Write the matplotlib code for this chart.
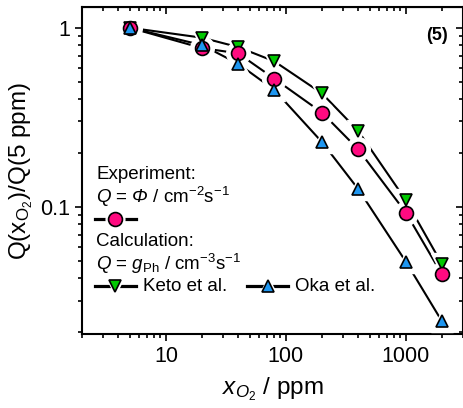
import numpy as np
import matplotlib
matplotlib.use("Agg")
from matplotlib import pyplot as plt
from matplotlib.ticker import LogLocator, NullFormatter, FixedLocator, FixedFormatter

plt.rcParams['font.family'] = ['Liberation Sans', 'DejaVu Sans']
plt.rcParams['mathtext.fontset'] = 'custom'
plt.rcParams['mathtext.rm'] = 'Liberation Sans'
plt.rcParams['mathtext.it'] = 'Liberation Sans:italic'
plt.rcParams['mathtext.bf'] = 'Liberation Sans:bold'
# italic slot for the capital Phi (mathtext forces Greek capitals upright in 'it')
plt.rcParams['mathtext.sf'] = 'Liberation Sans:italic'

# data
xO2 = [5, 20, 40, 80, 200, 400, 1000, 2000]
experiment = [1.0, 0.77, 0.72, 0.52, 0.336, 0.21, 0.093, 0.042]
keto = [1.0, 0.88, 0.78, 0.65, 0.43, 0.266, 0.109, 0.048]
oka = [1.0, 0.80, 0.63, 0.45, 0.23, 0.126, 0.0495, 0.023]

xticks = [10, 100, 1000]
xticklabels = ['10', '100', '1000']
yticks = [0.1, 1]
yticklabels = ['0.1', '1']

pink = '#FF0A80'
green = '#00C800'
blue = '#1E96F0'

fig = plt.figure(figsize=(4.64, 4.08), dpi=100)
ax = fig.add_axes([0.177, 0.181, 0.821, 0.801])


def series(y, marker, color, ms):
    ax.plot(xO2, y, '-', color='black', lw=1.5, zorder=2)
    ax.plot(xO2, y, marker, ls='none', ms=ms + 7, mfc='white', mec='white', zorder=3)
    ax.plot(xO2, y, marker, ls='none', ms=ms, mfc=color, mec='black', mew=1.2, zorder=4)


series(keto, 'v', green, 9)
series(experiment, 'o', pink, 10)
series(oka, '^', blue, 9)

ax.set_xscale('log')
ax.set_yscale('log')
ax.set_xlim(2, 3000)
ax.set_ylim(0.0195, 1.3)

ax.xaxis.set_major_locator(FixedLocator(xticks))
ax.xaxis.set_major_formatter(FixedFormatter(xticklabels))
ax.xaxis.set_minor_locator(LogLocator(base=10, subs=np.arange(2, 10)))
ax.xaxis.set_minor_formatter(NullFormatter())
ax.yaxis.set_major_locator(FixedLocator(yticks))
ax.yaxis.set_major_formatter(FixedFormatter(yticklabels))
ax.yaxis.set_minor_locator(LogLocator(base=10, subs=np.arange(2, 10)))
ax.yaxis.set_minor_formatter(NullFormatter())

ax.tick_params(which='both', direction='out', labelsize=15.5, width=1.2)
ax.tick_params(which='major', length=5)
ax.tick_params(which='minor', length=3)
for s in ax.spines.values():
    s.set_linewidth(1.5)

# top and right ticks pointing inward
top = ax.secondary_xaxis('top')
top.set_xticks(xticks)
top.xaxis.set_minor_locator(LogLocator(base=10, subs=np.arange(2, 10)))
top.tick_params(which='both', direction='in', labeltop=False, width=1.2)
top.tick_params(which='major', length=5)
top.tick_params(which='minor', length=3)
top.xaxis.set_minor_formatter(NullFormatter())
right = ax.secondary_yaxis('right')
right.set_yticks(yticks)
right.yaxis.set_minor_locator(LogLocator(base=10, subs=np.arange(2, 10)))
right.tick_params(which='both', direction='in', labelright=False, width=1.2)
right.tick_params(which='major', length=5)
right.tick_params(which='minor', length=3)
right.yaxis.set_minor_formatter(NullFormatter())

ax.set_xlabel(r'$x_{O_2}$ / ppm', fontsize=17.5, labelpad=6)
ax.set_ylabel(r'Q(x$_{\mathrm{O_2}}$)/Q(5 ppm)', fontsize=17.5, labelpad=4)

ax.text(0.932, 0.915, '(5)', transform=ax.transAxes, fontsize=13, fontweight='bold',
        ha='center', va='center')

# legend made of text
fs = 13.5
tx = 0.037
ax.text(tx, 0.49, 'Experiment:', transform=ax.transAxes, fontsize=fs, va='center')
ax.text(tx, 0.42, r'$Q$ = $\mathsf{\Phi}$ / cm$^{-2}$s$^{-1}$', transform=ax.transAxes,
        fontsize=fs, va='center')
ax.text(tx, 0.285, 'Calculation:', transform=ax.transAxes, fontsize=fs, va='center')
ax.text(tx, 0.214, r'$Q$ = $g_{\mathrm{Ph}}$ / cm$^{-3}$s$^{-1}$', transform=ax.transAxes,
        fontsize=fs, va='center')


def sample(x0, y0, marker, color, ms):
    ax.plot([x0, x0 + 0.107], [y0, y0], '-', color='black', lw=2.3,
            transform=ax.transAxes, clip_on=False, zorder=5)
    ax.plot([x0 + 0.0535], [y0], marker, ms=ms + 3.5, mfc='white', mec='white',
            transform=ax.transAxes, clip_on=False, zorder=6)
    ax.plot([x0 + 0.0535], [y0], marker, ms=ms, mfc=color, mec='black', mew=1.2,
            transform=ax.transAxes, clip_on=False, zorder=7)


sample(0.034, 0.352, 'o', pink, 10)
sample(0.034, 0.147, 'v', green, 9)
ax.text(0.16, 0.147, 'Keto et al.', transform=ax.transAxes, fontsize=fs, va='center')
sample(0.434, 0.147, '^', blue, 9)
ax.text(0.56, 0.147, 'Oka et al.', transform=ax.transAxes, fontsize=fs, va='center')

fig.savefig('out.png', dpi=100)
